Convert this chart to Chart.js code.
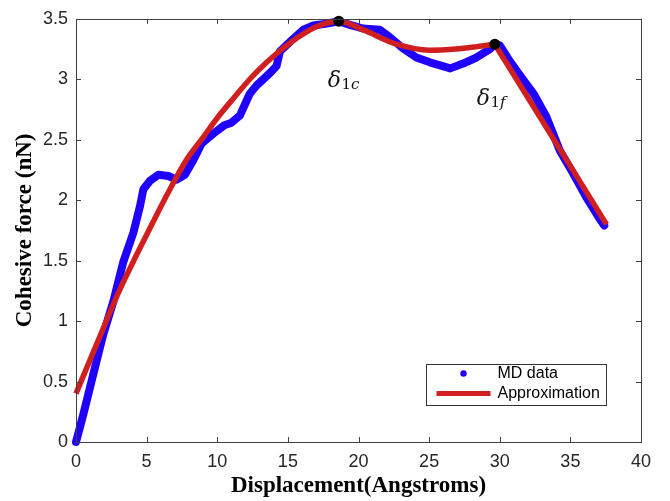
<!DOCTYPE html>
<html>
<head>
<meta charset="utf-8">
<script src="https://cdn.jsdelivr.net/npm/chart.js@4.4.1/dist/chart.umd.min.js"></script>
<style>
html,body{margin:0;padding:0;background:#fff;}
#wrap{width:670px;height:501px;position:relative;}
</style>
</head>
<body>
<div id="wrap"><canvas id="c" width="670" height="501"></canvas></div>
<script>
// ---- data ----
const mdX = [0, 0.5, 0.99, 1.5, 1.93, 2.64, 3.35, 4.06, 4.53, 4.77, 5.24, 5.83, 6.53, 7.13, 7.71, 8.3, 8.9, 9.72, 10.5, 11.0, 11.6, 12.3, 12.8, 13.26, 13.8, 14.2, 14.44, 15.15, 16.1, 16.8, 17.74, 18.6, 19.4, 20.3, 21.5, 22.2, 23.2, 24.1, 25.05, 26.5, 27.4, 28.36, 29.3, 29.65, 30.0, 30.6, 31.2, 32.4, 33.3, 34.25, 35.2, 36.1, 37.1, 37.4];
const mdY = [0, 0.22, 0.45, 0.69, 0.89, 1.16, 1.49, 1.73, 1.95, 2.09, 2.16, 2.21, 2.20, 2.17, 2.21, 2.33, 2.47, 2.55, 2.62, 2.64, 2.70, 2.88, 2.95, 3.00, 3.06, 3.11, 3.23, 3.31, 3.41, 3.445, 3.46, 3.48, 3.45, 3.42, 3.41, 3.35, 3.25, 3.18, 3.14, 3.09, 3.13, 3.18, 3.25, 3.29, 3.28, 3.17, 3.07, 2.88, 2.69, 2.41, 2.22, 2.03, 1.84, 1.79];

const approxX = [0, 1.5, 3.1, 4.3, 5.5, 6.65, 7.8, 9.0, 10.0, 11.2, 12.3, 13.5, 14.7, 16.6, 17.6, 18.6, 20.3, 22.7, 25.0, 26.9, 28.4, 29.65];
const approxY = [0.40, 0.82, 1.26, 1.55, 1.83, 2.09, 2.33, 2.52, 2.68, 2.85, 3.00, 3.14, 3.26, 3.41, 3.46, 3.48, 3.41, 3.29, 3.24, 3.25, 3.27, 3.29];
const approxTailX = [29.65, 37.56];
const approxTailY = [3.29, 1.80];

const keyX = [18.6, 29.65];
const keyY = [3.48, 3.29];
const keyMain = ['δ', 'δ'];
const keySub1 = ['1', '1'];
const keySub2 = ['c', 'f'];

const xTickValues = [0, 5, 10, 15, 20, 25, 30, 35, 40];
const yTickValues = [0, 0.5, 1, 1.5, 2, 2.5, 3, 3.5];
const xTickLabels = ['0', '5', '10', '15', '20', '25', '30', '35', '40'];
const yTickLabels = ['0', '0.5', '1', '1.5', '2', '2.5', '3', '3.5'];
const xTitle = 'Displacement(Angstroms)';
const yTitle = 'Cohesive force (nN)';
const legendLabels = ['MD data', 'Approximation'];

// ---- styles ----
const BLUE = '#1f00ff';
const RED = '#d11f1f';
const AXIS = '#404040';

const toPts = (xs, ys) => xs.map((x, i) => ({x: x, y: ys[i]}));

const boxAndTicks = {
  id: 'boxAndTicks',
  afterDraw(chart) {
    const {ctx, chartArea: a, scales} = chart;
    ctx.save();
    ctx.strokeStyle = AXIS;
    ctx.lineWidth = 1;
    ctx.strokeRect(Math.round(a.left) + 0.5, Math.round(a.top) + 0.5, Math.round(a.right - a.left), Math.round(a.bottom - a.top));
    ctx.beginPath();
    xTickValues.forEach(v => {
      const px = Math.round(scales.x.getPixelForValue(v)) + 0.5;
      ctx.moveTo(px, a.bottom); ctx.lineTo(px, a.bottom - 5);
      ctx.moveTo(px, a.top); ctx.lineTo(px, a.top + 5);
    });
    yTickValues.forEach(v => {
      const py = Math.round(scales.y.getPixelForValue(v)) + 0.5;
      ctx.moveTo(a.left, py); ctx.lineTo(a.left + 5, py);
      ctx.moveTo(a.right, py); ctx.lineTo(a.right - 5, py);
    });
    ctx.stroke();

    // legend box (inside axes, lower right)
    const bw = 180, bh = 41;
    const bx = Math.round(a.right - 35 - bw) + 0.5;
    const by = Math.round(a.bottom - 37 - bh) + 0.5;
    ctx.fillStyle = '#fff';
    ctx.fillRect(bx, by, bw, bh);
    ctx.strokeStyle = '#333';
    ctx.strokeRect(bx, by, bw, bh);
    const row1 = by + 9;
    const row2 = by + 29;
    ctx.fillStyle = BLUE;
    ctx.beginPath(); ctx.arc(bx + 37, row1, 3.2, 0, Math.PI * 2); ctx.fill();
    ctx.strokeStyle = RED; ctx.lineWidth = 5;
    ctx.beginPath(); ctx.moveTo(bx + 10, row2); ctx.lineTo(bx + 64, row2); ctx.stroke();
    ctx.fillStyle = '#000';
    ctx.font = '16px "Liberation Sans", Arial, sans-serif';
    ctx.textBaseline = 'middle';
    ctx.textAlign = 'left';
    ctx.fillText(legendLabels[0], bx + 71, row1);
    ctx.fillText(legendLabels[1], bx + 71, row2);

    // key point labels
    const offs = [[-11, 66], [-18, 61]];
    keyX.forEach((kx, i) => {
      const px = scales.x.getPixelForValue(kx) + offs[i][0];
      const py = scales.y.getPixelForValue(keyY[i]) + offs[i][1];
      ctx.fillStyle = '#111';
      ctx.font = 'italic 22px "DejaVu Serif", "Liberation Serif", serif';
      ctx.textBaseline = 'alphabetic';
      ctx.fillText(keyMain[i], px, py);
      let sx = px + ctx.measureText(keyMain[i]).width + 0.5;
      ctx.font = '15px "DejaVu Serif", "Liberation Serif", serif';
      ctx.fillText(keySub1[i], sx, py + 2);
      sx += ctx.measureText(keySub1[i]).width;
      ctx.font = 'italic 15px "DejaVu Serif", "Liberation Serif", serif';
      ctx.fillText(keySub2[i], sx, py + 2);
    });
    ctx.restore();
  }
};

new Chart(document.getElementById('c'), {
  type: 'line',
  data: {
    datasets: [
      {
        label: 'keypoints',
        data: toPts(keyX, keyY),
        showLine: false,
        pointRadius: 5.5,
        pointBackgroundColor: '#000',
        pointBorderColor: '#000',
        pointBorderWidth: 0,
        order: 0,
        clip: false
      },
      {
        label: legendLabels[1],
        data: toPts(approxX, approxY),
        borderColor: RED,
        borderWidth: 5.5,
        pointRadius: 0,
        cubicInterpolationMode: 'monotone',
        borderCapStyle: 'butt',
        borderJoinStyle: 'round',
        fill: false,
        order: 1,
        clip: false
      },
      {
        label: 'tail',
        data: toPts(approxTailX, approxTailY),
        borderColor: RED,
        borderWidth: 5.5,
        pointRadius: 0,
        tension: 0,
        borderCapStyle: 'butt',
        fill: false,
        order: 1,
        clip: false
      },
      {
        label: legendLabels[0],
        data: toPts(mdX, mdY),
        borderColor: BLUE,
        borderWidth: 8,
        pointRadius: 0,
        tension: 0,
        borderCapStyle: 'round',
        borderJoinStyle: 'round',
        fill: false,
        order: 2,
        clip: false
      }
    ]
  },
  options: {
    responsive: false,
    animation: false,
    devicePixelRatio: 1,
    layout: { padding: { left: 0, right: 29, top: 14, bottom: 0 } },
    plugins: { legend: { display: false }, tooltip: { enabled: false } },
    scales: {
      x: {
        type: 'linear', min: 0, max: 40,
        afterBuildTicks: (s) => { s.ticks = xTickValues.map(v => ({value: v})); },
        afterFit: (s) => { s.height = 59; },
        grid: { display: false, drawTicks: false },
        border: { display: false },
        ticks: {
          color: '#262626', padding: 9, maxRotation: 0,
          callback: (v) => xTickLabels[xTickValues.indexOf(v)],
          font: { family: '"Liberation Sans", Arial, sans-serif', size: 18 }
        },
        title: { display: true, text: xTitle, color: '#000', padding: { top: 0, bottom: 1 }, font: { family: '"Liberation Serif", "Times New Roman", serif', size: 23, weight: 'bold' } }
      },
      y: {
        type: 'linear', min: 0, max: 3.5,
        afterBuildTicks: (s) => { s.ticks = yTickValues.map(v => ({value: v})); },
        afterFit: (s) => { s.width = 76; },
        grid: { display: false, drawTicks: false },
        border: { display: false },
        ticks: {
          color: '#262626', padding: 8,
          callback: (v) => yTickLabels[yTickValues.indexOf(v)],
          font: { family: '"Liberation Sans", Arial, sans-serif', size: 18 }
        },
        title: { display: true, text: yTitle, color: '#000', padding: { top: 11, bottom: 0 }, font: { family: '"Liberation Serif", "Times New Roman", serif', size: 23, weight: 'bold' } }
      }
    }
  },
  plugins: [boxAndTicks]
});
</script>
</body>
</html>
